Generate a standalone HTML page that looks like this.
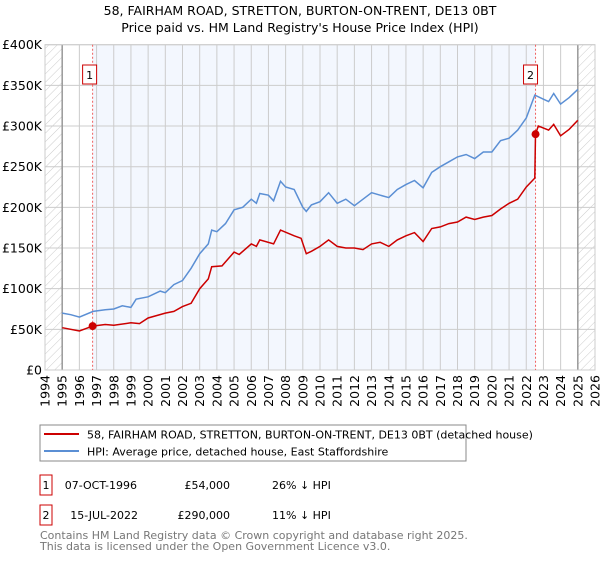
<!DOCTYPE html>
<html><head><meta charset="utf-8"><style>
body{margin:0;background:#fff;font-family:"DejaVu Sans","Liberation Sans",sans-serif;}
svg text{font-family:"DejaVu Sans","Liberation Sans",sans-serif;}
</style></head><body>
<svg id="c" width="600" height="560" xmlns="http://www.w3.org/2000/svg">
<defs><pattern id="hatch" width="6" height="6" patternUnits="userSpaceOnUse" patternTransform="rotate(45)"><line x1="0" y1="0" x2="0" y2="6" stroke="#ccc" stroke-width="1"/></pattern></defs>
<text x="300" y="15" text-anchor="middle" font-size="12.5">58, FAIRHAM ROAD, STRETTON, BURTON-ON-TRENT, DE13 0BT</text>
<text x="300" y="32" text-anchor="middle" font-size="12.5">Price paid vs. HM Land Registry's House Price Index (HPI)</text>
<g id="plot"></g>
<rect x="40" y="425" width="426" height="36" fill="#fff" stroke="#888"/>
<line x1="44" y1="434" x2="79" y2="434" stroke="#cc0000" stroke-width="2"/>
<text x="87" y="438.5" font-size="11">58, FAIRHAM ROAD, STRETTON, BURTON-ON-TRENT, DE13 0BT (detached house)</text>
<line x1="44" y1="451" x2="79" y2="451" stroke="#5b8fd4" stroke-width="2"/>
<text x="87" y="455.5" font-size="11">HPI: Average price, detached house, East Staffordshire</text>
<g font-size="11">
<rect x="40" y="475" width="12" height="20" fill="#fff" stroke="#cc0000"/>
<text x="46" y="489" text-anchor="middle">1</text>
<text x="137" y="489" text-anchor="end">07-OCT-1996</text>
<text x="230" y="489" text-anchor="end">£54,000</text>
<text x="272" y="489">26% ↓ HPI</text>
<rect x="40" y="505" width="12" height="20" fill="#fff" stroke="#cc0000"/>
<text x="46" y="519" text-anchor="middle">2</text>
<text x="138" y="519" text-anchor="end">15-JUL-2022</text>
<text x="230" y="519" text-anchor="end">£290,000</text>
<text x="272" y="519">11% ↓ HPI</text>
</g>
<text x="40" y="539" font-size="11" fill="#777">Contains HM Land Registry data © Crown copyright and database right 2025.</text>
<text x="40" y="550" font-size="11" fill="#777">This data is licensed under the Open Government Licence v3.0.</text>
</svg>
<script>
const hpiYears=[1995,1995.5,1996,1996.8,1997.5,1998,1998.5,1999,1999.3,2000,2000.7,2001,2001.5,2002,2002.5,2003,2003.5,2003.7,2004,2004.5,2005,2005.5,2006,2006.3,2006.5,2007,2007.3,2007.7,2008,2008.5,2009,2009.2,2009.5,2010,2010.5,2011,2011.5,2012,2012.5,2013,2013.5,2014,2014.5,2015,2015.5,2016,2016.5,2017,2017.5,2018,2018.5,2019,2019.5,2020,2020.5,2021,2021.5,2022,2022.5,2023,2023.3,2023.6,2024,2024.5,2025];
const hpiValues=[70,68,65,72,74,75,79,77,87,90,97,95,105,110,125,143,155,172,170,180,197,200,210,205,217,215,208,232,225,222,200,195,203,207,218,205,210,202,210,218,215,212,222,228,233,224,243,250,256,262,265,260,268,268,282,285,295,310,338,333,330,340,327,335,345];
const priceYears=[1995,1996,1996.77,1997.5,1998,1999,1999.5,2000,2001,2001.5,2002,2002.5,2003,2003.5,2003.7,2004.3,2005,2005.3,2006,2006.3,2006.5,2007.3,2007.7,2008.5,2008.9,2009.2,2009.5,2010,2010.5,2011,2011.5,2012,2012.5,2013,2013.5,2014,2014.5,2015,2015.5,2016,2016.5,2017,2017.5,2018,2018.5,2019,2019.5,2020,2020.5,2021,2021.5,2022,2022.5,2022.54,2022.7,2023.3,2023.6,2024,2024.5,2025];
const priceValues=[52,48,54,56,55,58,57,64,70,72,78,82,100,112,127,128,145,142,155,152,160,155,172,165,162,143,146,152,160,152,150,150,148,155,157,152,160,165,169,158,174,176,180,182,188,185,188,190,198,205,210,225,236,290,300,295,302,288,296,307];
const saleYears=[1996.77,2022.54];
const saleValues=[54,290];
const yTicks=[0,50,100,150,200,250,300,350,400];
const yTickLabels=["£0","£50K","£100K","£150K","£200K","£250K","£300K","£350K","£400K"];
const xTicks=[1994,1995,1996,1997,1998,1999,2000,2001,2002,2003,2004,2005,2006,2007,2008,2009,2010,2011,2012,2013,2014,2015,2016,2017,2018,2019,2020,2021,2022,2023,2024,2025,2026];

const L=45,R=595,T=44.7,B=370;
const xs=y=>L+(y-1994)/32*(R-L);
const ys=v=>B-v/400*(B-T);
const NS="http://www.w3.org/2000/svg";
const g=document.getElementById('plot');
function mk(tag,attrs){const e=document.createElementNS(NS,tag);for(const k in attrs)e.setAttribute(k,attrs[k]);g.appendChild(e);return e;}

let e=mk('rect',{x:L,y:T,width:R-L,height:B-T,fill:'#fff'});


e=mk('rect',{x:xs(saleYears[0]),y:T,width:xs(saleYears[1])-xs(saleYears[0]),height:B-T,fill:'#f3f7fe'});


e=mk('rect',{x:L,y:T,width:xs(1995)-L,height:B-T,fill:'url(#hatch)'});


e=mk('rect',{x:xs(2025),y:T,width:R-xs(2025),height:B-T,fill:'url(#hatch)'});


xTicks.forEach(y=>{
 e=mk('line',{x1:xs(y),x2:xs(y),y1:T,y2:B,stroke:'#ccc','stroke-width':1});
 
 
 const tx=xs(y)+4.5, ty=B+5;
 e=mk('text',{x:tx,y:ty,'text-anchor':'end','font-size':'12.5',transform:'rotate(-90 '+tx+' '+ty+')'});e.textContent=y;
 
 
});
yTicks.forEach((v,i)=>{
 e=mk('line',{x1:L,x2:R,y1:ys(v),y2:ys(v),stroke:'#ccc','stroke-width':1});
 
 
 e=mk('text',{x:L-3,y:ys(v)+4.5,'text-anchor':'end','font-size':'12.5'});e.textContent=yTickLabels[i];
 
 
});
[1995,2025].forEach(y=>{e=mk('line',{x1:xs(y),x2:xs(y),y1:T,y2:B,stroke:'#999','stroke-width':1.5});
 
 });
e=mk('rect',{x:L,y:T,width:R-L,height:B-T,fill:'none',stroke:'#ccc'});


saleYears.forEach((y,i)=>{
 e=mk('line',{x1:xs(y),x2:xs(y),y1:T,y2:B,stroke:'#f06060','stroke-dasharray':'2,2','stroke-width':1});
 
 
 e=mk('rect',{x:xs(y)-7-(i==0?3:5),y:65,width:14,height:19,fill:'#fff',stroke:'#cc0000'});
 
 
 e=mk('text',{x:xs(y)-(i==0?3:5),y:79,'text-anchor':'middle','font-size':'11'});e.textContent=String(i+1);
 
 
});
function path(xa,va){return xa.map((y,i)=>(i?'L':'M')+xs(y).toFixed(1)+','+ys(va[i]).toFixed(1)).join('');}
e=mk('path',{d:path(hpiYears,hpiValues),fill:'none',stroke:'#5b8fd4','stroke-width':1.5});


e=mk('path',{d:path(priceYears,priceValues),fill:'none',stroke:'#cc0000','stroke-width':1.5});


saleYears.forEach((y,i)=>{e=mk('circle',{cx:xs(y),cy:ys(saleValues[i]),r:4,fill:'#cc0000'});
 
 });
</script>
</body></html>
